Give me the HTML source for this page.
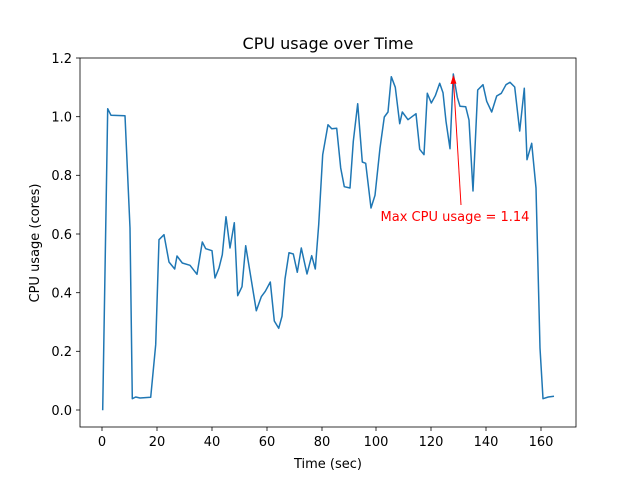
<!DOCTYPE html>
<html><head><style>body{margin:0;background:#fff}svg{display:block}text{font-family:"DejaVu Sans","Liberation Sans",sans-serif}</style></head><body>
<svg width="640" height="480" viewBox="0 0 640 480">
<rect width="640" height="480" fill="#fff"/>
<polyline fill="none" stroke="#1f77b4" stroke-width="1.5" stroke-linejoin="round" points="102.7,410.3 107.7,108.7 111,115.3 125,115.7 130,228 132.3,398.7 135.7,397 140,398 150.7,397.3 155.7,344.7 159,239.7 164,234.7 169,262 174.7,269 177,256 182.3,263 190,265.3 197,274.3 202.3,242 205.7,248.7 212,250.7 215,278 219,268 222.3,254.7 226,216.7 230,248 234.3,222.7 237.7,295.7 242,286.7 245.7,245.7 256.3,310.7 261.3,296.7 265.3,291.3 270.3,282 274.3,321 278.7,328.3 282,316.3 285,279 289,252.7 293.3,254 297.3,272.3 301.3,248 307,274 311.7,255.7 315.3,269 318.7,224.7 322.7,154.7 328,124.7 331.7,128.7 336.7,128.3 340.7,168 344.3,186.7 350,188 353.3,141.3 357.7,103.7 362.3,162 365.7,163.3 371,208 375,195.3 380,148 384.3,117 388,112 391.3,76.7 395.3,87.3 399.7,123.7 402.3,112 408,119.7 416,113.7 419.7,149.3 424,154.7 427.3,93.3 431.3,103 435.3,95.7 439.7,83.3 443,92.7 446,121.3 450,148.7 453.3,74 457.3,97.3 460,106.3 465.7,106.7 469,120 473,191 477.7,90 483,84.7 486.7,101.3 491.7,112 496.7,96 501.3,93.3 506,84.7 510,82.3 514.7,87 519.7,131 524.3,88.3 527,159.7 531.7,143.3 536,188 540,348 543,398.7 548.3,397 554,396.3"/>
<line x1="461" y1="205" x2="453.6" y2="82" stroke="red" stroke-width="1"/>
<polygon points="453.3,75 450.5,84 456.5,83.6" fill="red"/>
<text x="455" y="221" fill="red" font-size="13" text-anchor="middle">Max CPU usage = 1.14</text>
<rect x="80" y="58" width="496" height="369" fill="none" stroke="#000" stroke-width="0.8"/>
<g stroke="#000" stroke-width="0.8">
<line x1="102" y1="427" x2="102" y2="431"/><line x1="157" y1="427" x2="157" y2="431"/><line x1="212" y1="427" x2="212" y2="431"/><line x1="267" y1="427" x2="267" y2="431"/><line x1="322" y1="427" x2="322" y2="431"/><line x1="376" y1="427" x2="376" y2="431"/><line x1="431" y1="427" x2="431" y2="431"/><line x1="486" y1="427" x2="486" y2="431"/><line x1="541" y1="427" x2="541" y2="431"/>
<line x1="76" y1="410" x2="80" y2="410"/><line x1="76" y1="351.3" x2="80" y2="351.3"/><line x1="76" y1="292.7" x2="80" y2="292.7"/><line x1="76" y1="234" x2="80" y2="234"/><line x1="76" y1="175.3" x2="80" y2="175.3"/><line x1="76" y1="116.7" x2="80" y2="116.7"/><line x1="76" y1="58" x2="80" y2="58"/>
</g>
<g font-size="13" text-anchor="middle" fill="#000">
<text x="102" y="446">0</text><text x="157" y="446">20</text><text x="212" y="446">40</text><text x="267" y="446">60</text><text x="322" y="446">80</text><text x="376" y="446">100</text><text x="431" y="446">120</text><text x="486" y="446">140</text><text x="541" y="446">160</text>
</g>
<g font-size="13" text-anchor="end" fill="#000">
<text x="72" y="415">0.0</text><text x="72" y="356">0.2</text><text x="72" y="297.5">0.4</text><text x="72" y="239">0.6</text><text x="72" y="180">0.8</text><text x="72" y="121.5">1.0</text><text x="72" y="63">1.2</text>
</g>
<text x="328" y="468" font-size="13" text-anchor="middle">Time (sec)</text>
<text transform="translate(39,243) rotate(-90)" font-size="13" text-anchor="middle">CPU usage (cores)</text>
<text x="328" y="49" font-size="16" text-anchor="middle">CPU usage over Time</text>
</svg>
</body></html>
